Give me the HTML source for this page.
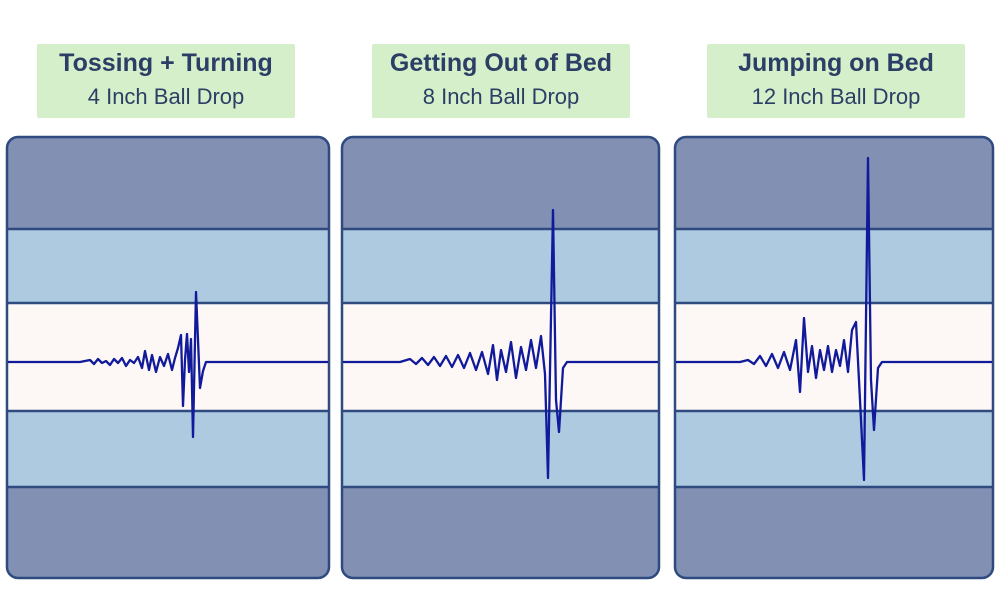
<!DOCTYPE html>
<html><head><style>
body{margin:0;width:1000px;height:607px;background:#fff;overflow:hidden;position:relative;font-family:"Liberation Sans",sans-serif}
.lab{position:absolute;top:44px;height:74px;background:#d5efca;border-radius:2px;text-align:center;color:#2b3f66}
.lab b{display:block;font-size:25px;margin-top:5px;font-weight:bold}
.lab span{display:block;font-size:22px;margin-top:6px}
</style></head><body>
<div class="lab" style="left:37px;width:258px"><b>Tossing + Turning</b><span>4 Inch Ball Drop</span></div>
<div class="lab" style="left:372px;width:258px"><b>Getting Out of Bed</b><span>8 Inch Ball Drop</span></div>
<div class="lab" style="left:707px;width:258px"><b>Jumping on Bed</b><span>12 Inch Ball Drop</span></div>
<svg width="1000" height="607" style="position:absolute;left:0;top:0">
<defs>
<g id="bands">
<rect x="0" y="0" width="1" height="92" fill="#8290b4"/>
</g>
</defs>
<g>
<!-- panel template via repeated shapes -->
<g id="p1">
<clipPath id="c1"><rect x="7" y="137" width="322" height="441" rx="11"/></clipPath>
<g clip-path="url(#c1)">
<rect x="7" y="137" width="322" height="92" fill="#8290b4"/><rect x="7" y="229" width="322" height="74" fill="#aecae0"/><rect x="7" y="303" width="322" height="108" fill="#fdf8f6"/><rect x="7" y="411" width="322" height="76" fill="#aecae0"/><rect x="7" y="487" width="322" height="91" fill="#8290b4"/>
</g></g>
<clipPath id="c2"><rect x="342" y="137" width="317" height="441" rx="11"/></clipPath>
<g clip-path="url(#c2)">
<rect x="342" y="137" width="317" height="92" fill="#8290b4"/><rect x="342" y="229" width="317" height="74" fill="#aecae0"/><rect x="342" y="303" width="317" height="108" fill="#fdf8f6"/><rect x="342" y="411" width="317" height="76" fill="#aecae0"/><rect x="342" y="487" width="317" height="91" fill="#8290b4"/>
</g>
<clipPath id="c3"><rect x="675" y="137" width="318" height="441" rx="11"/></clipPath>
<g clip-path="url(#c3)">
<rect x="675" y="137" width="318" height="92" fill="#8290b4"/><rect x="675" y="229" width="318" height="74" fill="#aecae0"/><rect x="675" y="303" width="318" height="108" fill="#fdf8f6"/><rect x="675" y="411" width="318" height="76" fill="#aecae0"/><rect x="675" y="487" width="318" height="91" fill="#8290b4"/>
</g>
<g stroke="#2e4a7e" stroke-width="2.5">
<line x1="7" y1="229" x2="329" y2="229"/><line x1="7" y1="303" x2="329" y2="303"/><line x1="7" y1="411" x2="329" y2="411"/><line x1="7" y1="487" x2="329" y2="487"/>
<line x1="342" y1="229" x2="659" y2="229"/><line x1="342" y1="303" x2="659" y2="303"/><line x1="342" y1="411" x2="659" y2="411"/><line x1="342" y1="487" x2="659" y2="487"/>
<line x1="675" y1="229" x2="993" y2="229"/><line x1="675" y1="303" x2="993" y2="303"/><line x1="675" y1="411" x2="993" y2="411"/><line x1="675" y1="487" x2="993" y2="487"/>
</g>
<g fill="none" stroke="#2e4a7e" stroke-width="2.5">
<rect x="7" y="137" width="322" height="441" rx="11"/>
<rect x="342" y="137" width="317" height="441" rx="11"/>
<rect x="675" y="137" width="318" height="441" rx="11"/>
</g>
<g fill="none" stroke="#101a9a" stroke-width="2.3" stroke-linejoin="round">
<polyline points="8,362 80,362 90,360 94,364 98,359 102,363 106,361 110,365 114,359 118,363 122,358 126,366 130,360 134,363 138,357 142,368 145,351 149,370 152,355 156,372 160,357 164,366 168,354 172,370 175,358 178,348 181,335 183,406 185,360 187,334 189,372 191,339 193,437 196,292 200,388 203,371 206,362 328,362"/>
<polyline points="343,362 400,362 410,359 416,364 422,358 428,365 434,357 440,366 446,356 452,367 458,355 464,368 470,353 476,370 482,352 488,374 493,345 497,380 501,350 506,372 511,342 516,378 521,347 526,370 531,340 536,368 541,336 545,374 548,478 553,210 556,400 559,432 563,368 567,362 658,362"/>
<polyline points="676,362 740,362 748,360 754,364 760,356 766,366 772,354 778,368 784,352 790,370 796,340 800,392 804,318 808,372 812,346 816,378 820,350 824,370 828,346 832,372 836,350 840,366 844,340 848,372 852,330 856,322 860,400 864,480 868,158 871,380 874,430 878,368 882,362 992,362"/>
</g>
</g>
</svg>
</body></html>
